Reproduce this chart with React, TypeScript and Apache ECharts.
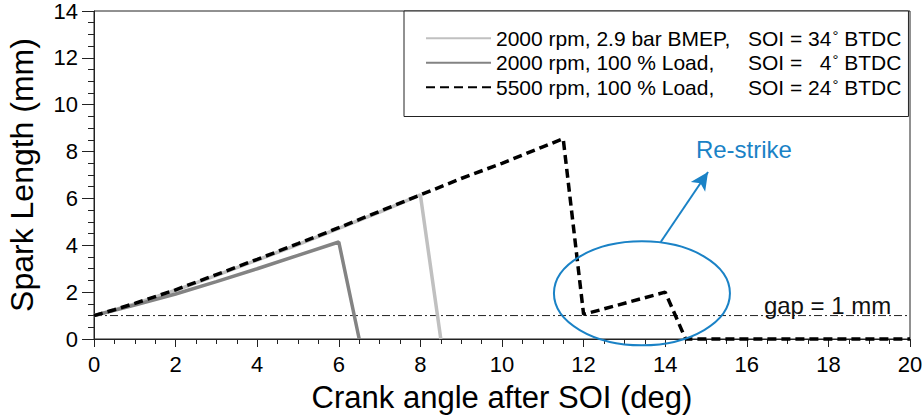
import React, { useEffect, useRef } from "react";
import * as echarts from "echarts";

const FONT = "'Liberation Sans', Arial, sans-serif";

const legendNames = [
  "2000 rpm, 2.9 bar BMEP, SOI = 34° BTDC",
  "2000 rpm, 100 % Load, SOI = 4° BTDC",
  "5500 rpm, 100 % Load, SOI = 24° BTDC",
];
const legendParts: string[][] = [
  ["2000 rpm, 2.9 bar BMEP,", "SOI =\u00a0", "34", "°", "\u00a0BTDC"],
  ["2000 rpm, 100 % Load,", "SOI =\u00a0", "\u20074", "°", "\u00a0BTDC"],
  ["5500 rpm, 100 % Load,", "SOI =\u00a0", "24", "°", "\u00a0BTDC"],
];

const lightGrayX = [0, 1, 2, 3, 4, 5, 6, 7, 8, 8.5];
const lightGrayY = [1.0, 1.5, 2.08, 2.72, 3.37, 4.03, 4.72, 5.42, 6.15, 0];

const darkGrayX = [0, 1, 2, 3, 4, 5, 6, 6.5];
const darkGrayY = [1.0, 1.45, 1.92, 2.45, 3.0, 3.57, 4.14, 0];

const dashedX = [0, 0.5, 1, 2, 3, 4, 5, 6, 7, 8, 9, 10, 11, 11.5, 12, 14, 14.5, 20];
const dashedY = [1.0, 1.25, 1.52, 2.1, 2.75, 3.4, 4.07, 4.75, 5.45, 6.15, 6.85, 7.5, 8.2, 8.55, 1.05, 2.0, 0, 0];

const gapX = [0, 20];
const gapY = [1, 1];

const arrowFrom = [13.89, 4.14];
const arrowTo = [15.05, 7.13];
const ellipseCenter = [13.43, 1.95];
const restrikePos = [15.93, 8.1];
const gapLabelPos = [17.98, 1.45];

const zip = (xs: number[], ys: number[]) => xs.map((x, i) => [x, ys[i]]);

const BLUE = "#1a82c6";

export default function App() {
  const ref = useRef<HTMLDivElement>(null);
  useEffect(() => {
    document.body.style.margin = "0";
    if (!ref.current) return;
    const chart = echarts.init(ref.current, null, { renderer: "svg" });
    const lf = 21;
    const option: any = {
      animation: false,
      backgroundColor: "#fff",
      textStyle: { fontFamily: FONT },
      grid: {
        left: 94,
        right: 14,
        top: 11,
        bottom: 77,
        containLabel: false,
        outerBoundsMode: "none",
        show: true,
        borderColor: "#222",
        borderWidth: 1,
        backgroundColor: "transparent",
      },
      legend: {
        data: legendNames,
        orient: "vertical",
        left: 404,
        top: 11,
        width: 506,
        padding: [15, 7, 17, 21],
        borderColor: "#222",
        borderWidth: 1,
        backgroundColor: "#fff",
        itemWidth: 65,
        itemHeight: 14,
        itemGap: 0,
        selectedMode: false,
        itemStyle: { opacity: 0 },
        formatter: (name: string) => {
          const i = legendNames.indexOf(name);
          const p = legendParts[i];
          return `{a|${p[0]}}{b|${p[1]}}{c|${p[2]}}{d|${p[3]}}{e|${p[4]}}`;
        },
        textStyle: {
          color: "#000",
          fontSize: lf,
          fontFamily: FONT,
          lineHeight: 24.5,
          rich: {
            a: { width: 252, fontSize: lf, fontFamily: FONT, color: "#000" },
            b: { fontSize: lf, fontFamily: FONT, color: "#000" },
            c: { fontSize: lf, fontFamily: FONT, color: "#000" },
            d: { fontSize: 15, fontFamily: FONT, color: "#000", padding: [0, 0, 6, 1] },
            e: { fontSize: lf, fontFamily: FONT, color: "#000" },
          },
        },
      },
      xAxis: {
        type: "value",
        min: 0,
        max: 20,
        interval: 2,
        name: "Crank angle after SOI (deg)",
        nameLocation: "middle",
        nameGap: 43,
        nameTextStyle: { fontSize: 31, color: "#000", fontFamily: FONT },
        axisLine: { show: true, lineStyle: { color: "#222", width: 1 } },
        axisTick: { show: true, inside: false, length: 8, lineStyle: { color: "#222" } },
        minorTick: { show: true, splitNumber: 4, length: 5, lineStyle: { color: "#222" } },
        splitLine: { show: false },
        axisLabel: { fontSize: 22, color: "#000", margin: 14, fontFamily: FONT },
      },
      yAxis: {
        type: "value",
        min: 0,
        max: 14,
        interval: 2,
        name: "Spark Length (mm)",
        nameLocation: "middle",
        nameGap: 56,
        nameTextStyle: { fontSize: 32, color: "#000", fontFamily: FONT },
        axisLine: { show: true, lineStyle: { color: "#222", width: 1 } },
        axisTick: { show: true, inside: false, length: 12, lineStyle: { color: "#222" } },
        minorTick: { show: true, splitNumber: 4, length: 6, lineStyle: { color: "#222" } },
        splitLine: { show: false },
        axisLabel: { fontSize: 22, color: "#000", margin: 16, fontFamily: FONT },
      },
      series: [
        {
          name: "gap",
          type: "line",
          data: zip(gapX, gapY),
          symbol: "none",
          lineStyle: { color: "#222", width: 1, type: [8, 3, 2, 3] },
          z: 1,
        },
        {
          name: legendNames[0],
          type: "line",
          data: zip(lightGrayX, lightGrayY),
          symbol: "none",
          clip: false,
          color: "#c0c0c0",
          lineStyle: { color: "#c0c0c0", width: 3.5 },
          z: 2,
        },
        {
          name: legendNames[1],
          type: "line",
          data: zip(darkGrayX, darkGrayY),
          symbol: "none",
          clip: false,
          color: "#838383",
          lineStyle: { color: "#838383", width: 3.5 },
          z: 3,
        },
        {
          name: legendNames[2],
          type: "line",
          data: zip(dashedX, dashedY),
          symbol: "none",
          clip: false,
          color: "#000",
          lineStyle: { color: "#000", width: 3.5, type: [9, 5] },
          z: 4,
          markLine: {
            silent: true,
            symbol: ["none", "arrow"],
            symbolSize: [13, 18],
            label: { show: false },
            lineStyle: { color: BLUE, width: 2, type: "solid" },
            data: [[{ coord: arrowFrom }, { coord: arrowTo }]],
          },
        },
      ],
    };
    chart.setOption(option);
    const c = chart.convertToPixel({ gridIndex: 0 }, ellipseCenter) as number[];
    const r = chart.convertToPixel({ gridIndex: 0 }, restrikePos) as number[];
    const g = chart.convertToPixel({ gridIndex: 0 }, gapLabelPos) as number[];
    chart.setOption({
      graphic: [
        {
          type: "ellipse",
          shape: { cx: c[0], cy: c[1], rx: 88, ry: 52 },
          style: { fill: "none", stroke: BLUE, lineWidth: 2 },
          z: 10,
        },
        {
          type: "text",
          x: r[0],
          y: r[1],
          style: {
            text: "Re-strike",
            fill: BLUE,
            fontSize: 24,
            fontFamily: FONT,
            align: "center",
            verticalAlign: "middle",
          },
          z: 10,
        },
        {
          type: "text",
          x: g[0],
          y: g[1],
          style: {
            text: "gap = 1 mm",
            fill: "#111",
            fontSize: 24,
            fontFamily: FONT,
            align: "center",
            verticalAlign: "middle",
          },
          z: 10,
        },
      ],
    });
    return () => chart.dispose();
  }, []);
  return <div ref={ref} style={{ width: 924, height: 416 }} />;
}
